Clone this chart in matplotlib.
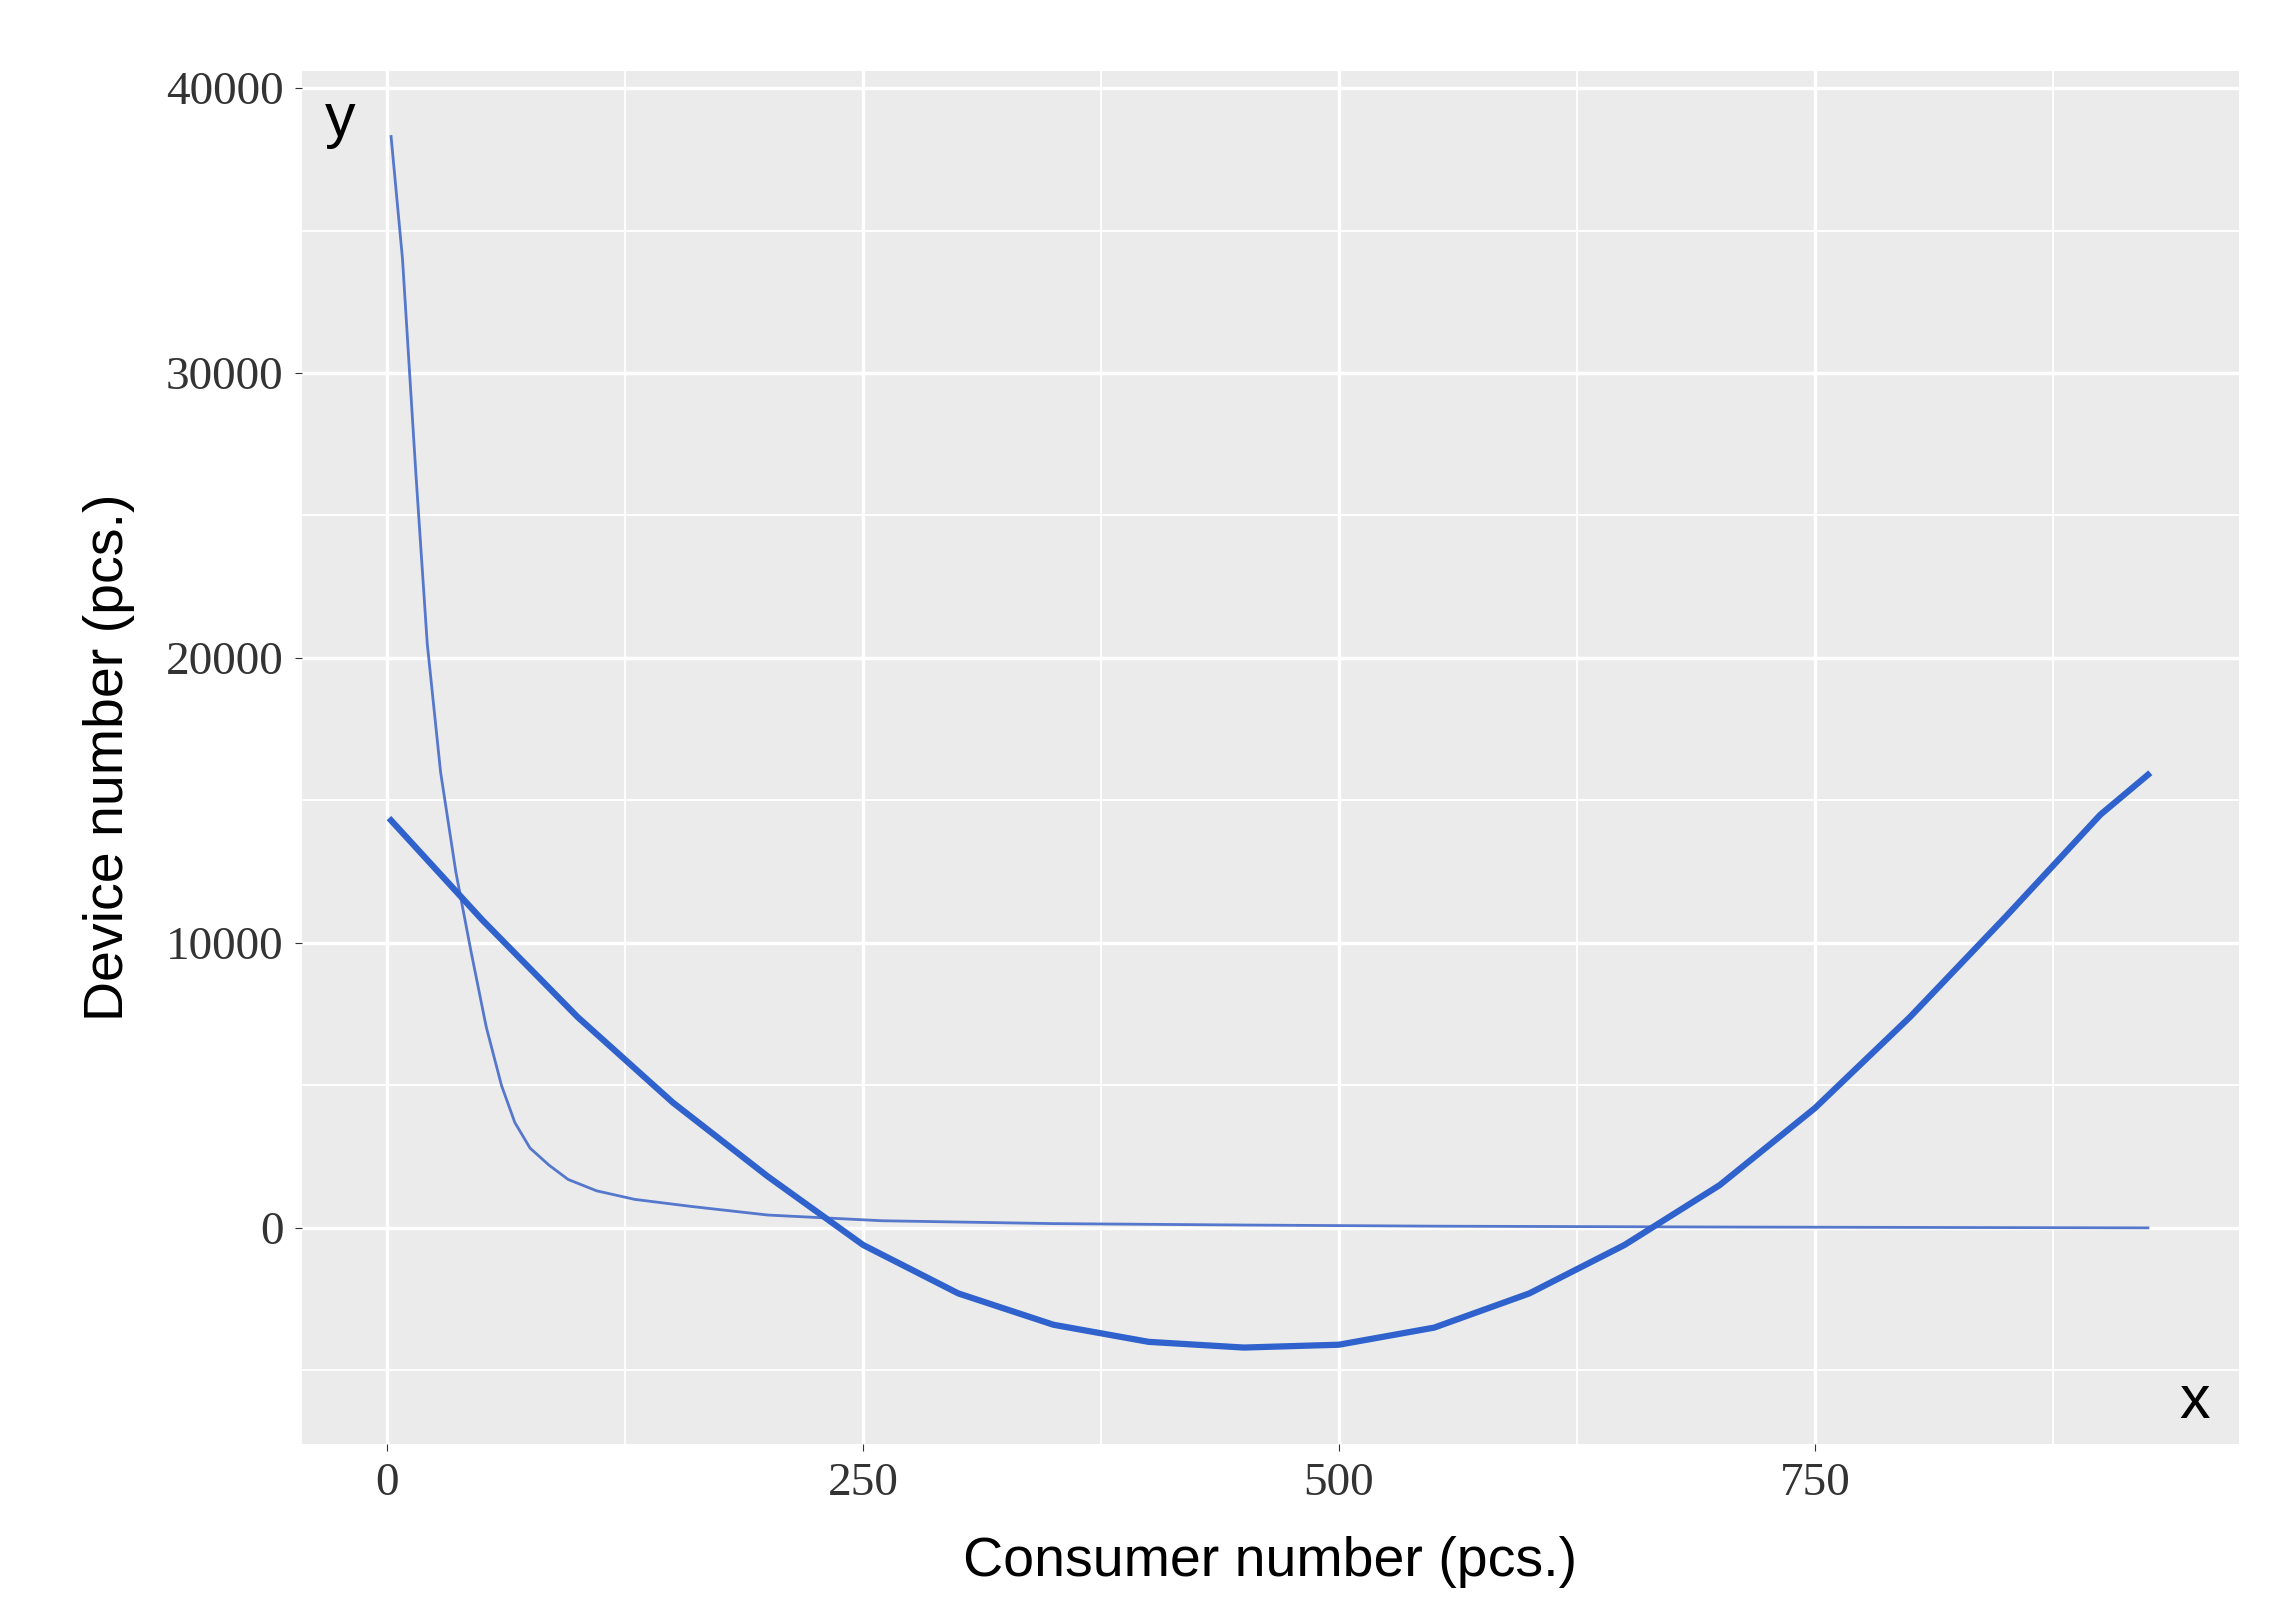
import matplotlib
matplotlib.use("Agg")
import matplotlib.pyplot as plt

thin_x = [2, 8, 15, 21, 28, 36, 44, 52, 60, 67, 75, 85, 95, 110, 130, 160, 200, 260, 350, 450, 550, 700, 850, 925]
thin_y = [38300, 34000, 26500, 20500, 16000, 12500, 9700, 7050, 5000, 3700, 2800, 2200, 1700, 1300, 1000, 750, 450, 250, 150, 100, 60, 30, 10, 0]
thick_x = [2, 50, 100, 150, 200, 250, 300, 350, 400, 450, 500, 550, 600, 650, 700, 750, 800, 850, 900, 925]
thick_y = [14300, 10800, 7400, 4400, 1800, -600, -2300, -3400, -4000, -4200, -4100, -3500, -2300, -600, 1500, 4200, 7400, 10900, 14500, 15900]
xticks = [0, 250, 500, 750]
yticks = [0, 10000, 20000, 30000, 40000]

fig = plt.figure(figsize=(22.85, 16.13), dpi=100)
ax = fig.add_axes([0.132, 0.1045, 0.848, 0.8515])
ax.set_facecolor("#ebebeb")
for s in ax.spines.values():
    s.set_visible(False)
ax.set_xlim(-45, 973)
ax.set_ylim(-7600, 40600)
ax.set_xticks(xticks)
ax.set_yticks(yticks)
ax.set_xticks([125, 375, 625, 875], minor=True)
ax.set_yticks([-5000, 5000, 15000, 25000, 35000], minor=True)
ax.grid(True, which="major", color="white", linewidth=2.5)
ax.grid(True, which="minor", color="white", linewidth=1.3)
ax.set_axisbelow(True)
ax.tick_params(which="both", length=0)
ax.tick_params(which="major", length=5, color="#333333", pad=8)
for lab in ax.get_xticklabels() + ax.get_yticklabels():
    lab.set_family("Liberation Serif")
    lab.set_fontsize(34)
    lab.set_color("#333333")

ax.plot(thin_x, thin_y, color="#5577cc", linewidth=2)
ax.plot(thick_x, thick_y, color="#2f62cc", linewidth=4.5)

ax.set_xlabel("Consumer number (pcs.)", family="Liberation Sans", fontsize=40, labelpad=22)
ax.set_ylabel("Device number (pcs.)", family="Liberation Sans", fontsize=40, labelpad=22)
ax.text(0.012, 0.985, "y", transform=ax.transAxes, fontsize=44, va="top", family="Liberation Sans")
ax.text(0.985, 0.01, "x", transform=ax.transAxes, fontsize=44, va="bottom", ha="right", family="Liberation Sans")

fig.savefig("out.png", dpi=100)
